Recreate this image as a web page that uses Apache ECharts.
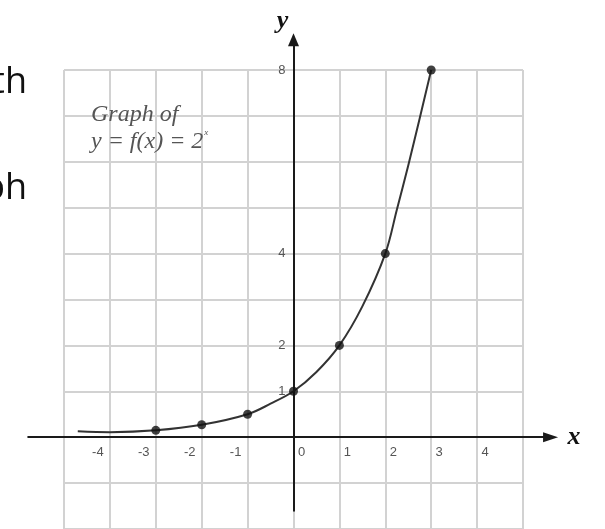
<!DOCTYPE html>
<html>
<head>
<meta charset="utf-8">
<script src="https://cdn.jsdelivr.net/npm/echarts@6/dist/echarts.min.js"></script>
<style>
  html, body { margin: 0; padding: 0; background: #fff; }
  #graph { width: 605px; height: 529px; }
</style>
</head>
<body>
<div id="graph"></div>
<script>
// tick labels
const xTicks = [-4, -3, -2, -1, 0, 1, 2, 3, 4];
const yTicks = [1, 2, 4, 8];
// dots on the curve
const pointX = [-3, -2, -1, 0, 1, 2, 3];
const pointY = [0.15, 0.27, 0.5, 1, 2, 4, 8];
// curve
const curveX = [-4.7, -4, -3, -2, -1, -0.5, 0, 0.5, 1, 1.5, 2, 2.25, 2.5, 2.75, 3];
const curveY = [0.13, 0.11, 0.15, 0.27, 0.5, 0.73, 1, 1.42, 2, 2.85, 4, 4.95, 5.92, 6.95, 8];

// grid range, and how far the drawn axes reach past it
const xMin = -5, xMax = 5, yMin = -2, yMax = 8;
const xAxisFrom = -5.78, xAxisTo = 5.6;
const yAxisFrom = -1.6, yAxisTo = 8.66;

// grid box
const gridLeft = 64, gridTop = 70, gridW = 459, gridH = 459;
const unitX = gridW / (xMax - xMin), unitY = gridH / (yMax - yMin);

var myChart = echarts.init(document.getElementById('graph'));

var curve = curveX.map(function (x, i) { return [x, curveY[i]]; });
var points = pointX.map(function (x, i) { return [x, pointY[i]]; });

// second, wider grid on the same scale that carries the arrowed axes
var axisGrid = {
  left: gridLeft + (xAxisFrom - xMin) * unitX,
  top: gridTop + (yMax - yAxisTo) * unitY,
  width: (xAxisTo - xAxisFrom) * unitX,
  height: (yAxisTo - yAxisFrom) * unitY,
  outerBoundsMode: 'none'
};

var labelFont = { fontFamily: 'Liberation Sans', fontSize: 13, color: '#555' };
var nameFont = { fontFamily: 'Liberation Serif', fontStyle: 'italic', fontWeight: 'bold', fontSize: 26, color: '#111' };

var option = {
  backgroundColor: '#fff',
  animation: false,
  title: {
    left: 86,
    top: 96,
    text: '{a|Graph of}\n{a|y = f(x) = 2}{s|x}',
    textStyle: {
      fontWeight: 'normal',
      rich: {
        a: { fontFamily: 'Liberation Serif', fontStyle: 'italic', fontWeight: 'normal', fontSize: 24, color: '#555', lineHeight: 27 },
        s: { fontFamily: 'Liberation Serif', fontStyle: 'italic', fontWeight: 'normal', fontSize: 9, color: '#555', verticalAlign: 'top', padding: [0, 0, 14, 1] }
      }
    }
  },
  graphic: [
    { type: 'text', right: 578, top: 65, style: { text: 'th', font: '36px "Open Sans"', fill: '#111' } },
    { type: 'text', right: 578, top: 171, style: { text: 'ph', font: '36px "Open Sans"', fill: '#111' } }
  ],
  grid: [
    { left: gridLeft, top: gridTop, width: gridW, height: gridH, outerBoundsMode: 'none' },
    axisGrid
  ],
  xAxis: [
    {
      gridIndex: 0,
      type: 'value',
      min: xMin,
      max: xMax,
      interval: 1,
      offset: -gridH * (0 - yMin) / (yMax - yMin),
      axisLine: { show: false, onZero: false },
      axisTick: { show: false },
      splitLine: { show: true, lineStyle: { color: '#d2d2d2', width: 2 } },
      axisLabel: {
        margin: 9,
        formatter: function (v) {
          if (xTicks.indexOf(v) < 0) return '';
          return v < 0 ? '{n|' + v + '}' : '{p|' + v + '}';
        },
        rich: {
          n: Object.assign({ padding: [0, 24, 0, 0] }, labelFont),
          p: Object.assign({ padding: [0, 0, 0, 16] }, labelFont)
        }
      }
    },
    {
      gridIndex: 1,
      type: 'value',
      min: xAxisFrom,
      max: xAxisTo,
      offset: -axisGrid.height * (0 - yAxisFrom) / (yAxisTo - yAxisFrom),
      name: 'x',
      nameGap: 17,
      nameTextStyle: nameFont,
      axisLine: { show: true, onZero: false, symbol: ['none', 'triangle'], symbolSize: [10, 15], lineStyle: { color: '#1a1a1a', width: 2 } },
      axisTick: { show: false },
      axisLabel: { show: false },
      splitLine: { show: false }
    }
  ],
  yAxis: [
    {
      gridIndex: 0,
      type: 'value',
      min: yMin,
      max: yMax,
      interval: 1,
      offset: -gridW * (0 - xMin) / (xMax - xMin),
      axisLine: { show: false, onZero: false },
      axisTick: { show: false },
      splitLine: { show: true, lineStyle: { color: '#d2d2d2', width: 2 } },
      axisLabel: Object.assign({
        margin: 8,
        formatter: function (v) { return yTicks.indexOf(v) < 0 ? '' : String(v); }
      }, labelFont)
    },
    {
      gridIndex: 1,
      type: 'value',
      min: yAxisFrom,
      max: yAxisTo,
      offset: -axisGrid.width * (0 - xAxisFrom) / (xAxisTo - xAxisFrom),
      name: 'y',
      nameGap: 5,
      nameTextStyle: Object.assign({ padding: [0, 22, 0, 0] }, nameFont),
      axisLine: { show: true, onZero: false, symbol: ['none', 'triangle'], symbolSize: [11, 13], lineStyle: { color: '#1a1a1a', width: 2 } },
      axisTick: { show: false },
      axisLabel: { show: false },
      splitLine: { show: false }
    }
  ],
  series: [
    {
      type: 'line',
      xAxisIndex: 0,
      yAxisIndex: 0,
      data: curve,
      smooth: 0.35,
      symbol: 'none',
      z: 5,
      lineStyle: { color: '#333', width: 2 }
    },
    {
      type: 'scatter',
      xAxisIndex: 0,
      yAxisIndex: 0,
      data: points,
      symbolSize: 9,
      z: 6,
      itemStyle: { color: '#111' }
    }
  ]
};
myChart.setOption(option);
</script>
</body>
</html>
